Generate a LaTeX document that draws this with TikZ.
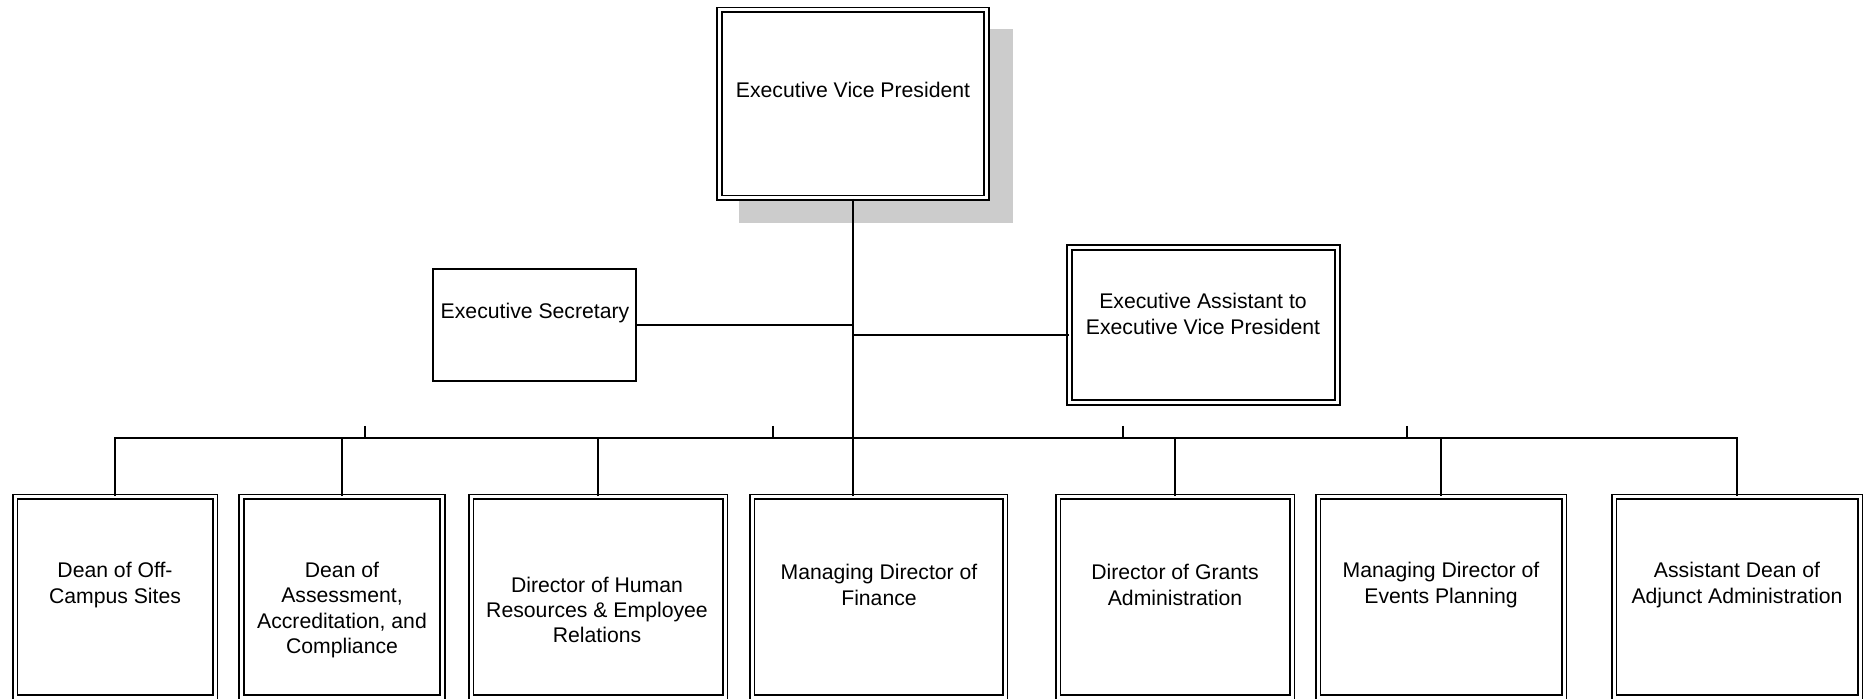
\documentclass[tikz,border=0pt]{standalone}
\usepackage{fontspec}
\setmainfont{Liberation Sans}
\tikzstyle{unit}=[draw, double, double distance=1.5pt, line width=0.8pt, fill=white, inner sep=0pt]
\tikzstyle{staff}=[draw, line width=0.8pt, fill=white, inner sep=0pt]
\tikzstyle{unittext}=[align=center, inner sep=0pt, font=\fontsize{10.6pt}{12.7pt}\selectfont]
\tikzstyle{link}=[line width=0.8pt]

\begin{document}
\begin{tikzpicture}[x=0.5pt, y=-0.5pt]
\useasboundingbox (0, 0) rectangle (1868, 699);
% shadow of the top box
\fill[black!20] (739, 29) rectangle (1013, 223);
\node[unit, minimum width=133.5pt, minimum height=94pt] at (853, 104) (evp) {};
\node[staff, minimum width=101.5pt, minimum height=56pt] at (534.5, 325) (sec) {};
\node[unit, minimum width=134pt, minimum height=77.5pt] at (1203.5, 325) (ea) {};
\node[unit, minimum width=100pt, minimum height=100pt] at (115, 597) (offc) {};
\node[unit, minimum width=100.5pt, minimum height=100pt] at (342, 597) (assess) {};
\node[unit, minimum width=127pt, minimum height=100pt] at (598, 597) (hr) {};
\node[unit, minimum width=126.5pt, minimum height=100pt] at (878.5, 597) (fin) {};
\node[unit, minimum width=117pt, minimum height=100pt] at (1175, 597) (grants) {};
\node[unit, minimum width=123pt, minimum height=100pt] at (1441, 597) (events) {};
\node[unit, minimum width=123pt, minimum height=100pt] at (1737, 597) (adjunct) {};
% titles
\node[unittext] at (853, 90) (evp-t) {Executive Vice President};
\node[unittext] at (535, 313) (sec-t) {Executive Secretary};
\node[unittext] at (1203, 314) (ea-t) {Executive Assistant to\\Executive Vice President};
\node[unittext] at (115, 585) (offc-t) {Dean of Off-\\Campus Sites};
\node[unittext] at (342, 610) (assess-t) {Dean of\\Assessment,\\Accreditation, and\\Compliance};
\node[unittext] at (597, 610) (hr-t) {Director of Human\\Resources \& Employee\\Relations};
\node[unittext] at (879, 585) (fin-t) {Managing Director of\\Finance};
\node[unittext] at (1175, 585) (grants-t) {Director of Grants\\Administration};
\node[unittext] at (1441, 585) (events-t) {Managing Director of\\Events Planning};
\node[unittext] at (1737, 585) (adjunct-t) {Assistant Dean of\\Adjunct Administration};
% lines
\coordinate (bus) at (853, 438);
\coordinate (ea-in) at (853, 335);
\draw[link] (evp.south) -- (evp.south |- fin.north);
\draw[link] (sec) -- (sec -| evp);
\draw[link] (ea-in) -- (ea-in -| ea.west);
\draw[link] (offc.north) |- (bus) -| (adjunct.north);
\foreach \n in {assess, hr, grants, events}
  \draw[link] (\n.north) -- (\n.north |- bus);
\foreach \x in {365, 773, 1123, 1407}
  \draw[link] (\x, 426) -- (\x, 438);
\end{tikzpicture}
\end{document}
